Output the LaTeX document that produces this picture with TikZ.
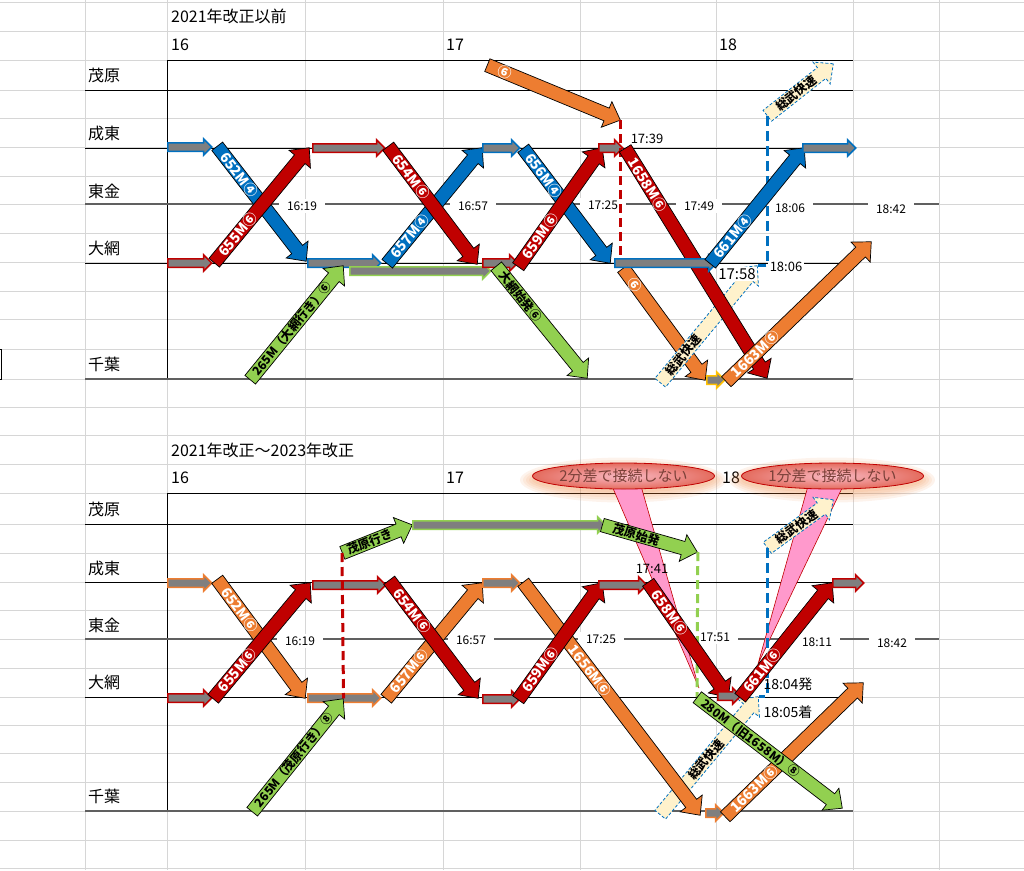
\documentclass[tikz,border=0pt]{standalone}
\usepackage{fontspec}
\setmainfont{Noto Sans CJK JP}
\usetikzlibrary{calc,shapes.arrows,shapes.geometric}
\definecolor{jrred}{HTML}{C00000}
\definecolor{jrblue}{HTML}{0070C0}
\definecolor{jrorange}{HTML}{ED7D31}
\definecolor{jrgreen}{HTML}{92D050}
\definecolor{jrcream}{HTML}{FFF2CC}
\definecolor{jrgold}{HTML}{FFC000}
\definecolor{stopgray}{HTML}{7F7F7F}
\definecolor{gridgray}{HTML}{D6D6D6}
\definecolor{linegray}{HTML}{606060}
\definecolor{wedgepink}{HTML}{FF99CC}
\definecolor{noteinner}{HTML}{F9B9C4}
\definecolor{noteouter}{HTML}{E46C5E}
\definecolor{notetext}{HTML}{7A4038}
\newcommand\trainarrow[7][]{%
  \path let \p1=(#4), \p2=(#5), \n1={atan2(\y2-\y1,\x2-\x1)}, \n2={veclen(\x2-\x1,\y2-\y1)} in
    node[#2, rotate=\n1, minimum height=\n2, anchor=tail] (#3) at (\p1) {}
    node[tlab, #1, rotate=\n1] (#3-l) at ($(\p1)!#6!(\p2)$) {#7};}
\newcommand\stoparrow[4]{%
  \path let \p1=(#3), \p2=(#4), \n1={veclen(\x2-\x1,\y2-\y1)} in
    node[#1, minimum height=\n1, anchor=tail] (#2) at (\p1) {};}
\begin{document}
\begin{tikzpicture}[x=1pt,y=-1pt,
    gridline/.style={draw=gridgray, line width=1pt},
    station/.style={anchor=west, inner sep=0pt, font=\fontsize{16}{16}\selectfont},
    tlabel/.style={fill=white, inner xsep=8pt, inner ysep=3pt, font=\fontsize{12}{12}\selectfont},
    note/.style={inner sep=1.5pt, font=\fontsize{13}{13}\selectfont},
    train/.style={single arrow, draw=black, line width=.7pt, inner xsep=0pt, inner ysep=6.5pt,
      minimum width=0pt, single arrow head extend=7pt, single arrow tip angle=86},
    trainred/.style={train, fill=jrred},
    trainblue/.style={train, fill=jrblue},
    trainorange/.style={train, fill=jrorange},
    traingreen/.style={train, fill=jrgreen},
    rapid/.style={train, fill=jrcream, draw=jrblue, line width=.8pt, dash pattern=on 3pt off 2pt},
    halt/.style={single arrow, fill=stopgray, line width=1.5pt, inner xsep=0pt, inner ysep=3.5pt,
      minimum width=0pt, single arrow head extend=4pt, single arrow tip angle=90},
    haltred/.style={halt, draw=jrred},
    haltblue/.style={halt, draw=jrblue},
    haltorange/.style={halt, draw=jrorange},
    haltgreen/.style={halt, draw=jrgreen},
    haltgold/.style={halt, draw=jrgold},
    tlab/.style={inner sep=0pt, text=white, font=\fontsize{14}{14}\selectfont\bfseries},
    blab/.style={text=black, font=\fontsize{12}{12}\selectfont\bfseries},
    slab/.style={text=black, font=\fontsize{12}{12}\selectfont\bfseries},
    reddash/.style={draw=jrred, line width=3pt, dash pattern=on 9pt off 5pt},
    bluedash/.style={draw=jrblue, line width=3pt, dash pattern=on 10pt off 5pt},
    greendash/.style={draw=jrgreen, line width=3pt, dash pattern=on 9pt off 5pt},
    gapnote/.style={ellipse, draw=jrred, line width=.8pt, inner color=noteinner, outer color=noteouter,
      minimum width=182pt, minimum height=26pt, inner sep=0pt, text=notetext, font=\fontsize{15}{15}\selectfont}]
\useasboundingbox (0,0) rectangle (1024,870);
% sheet grid
\foreach \gx in {85,167,305,443,580,716,853,939} \draw[gridline] (\gx,0) -- (\gx,870);
\foreach \gy in {2,31,60,90,118,147,176,204,233,262,291,319,349,379,407,435,464,493,524,553,582,610,639,668,697,725,753,782,811,840,868}
  \draw[gridline] (0,\gy) -- (1024,\gy);
\draw[line width=.8pt] (-2,349) -- (1.5,349) -- (1.5,379) -- (-2,379);
% frames and station lines
\foreach \yf/\ym/\ys/\yt/\yo/\yc in {60/90/148/204/263/379,493/524/582/639/697/811} {
  \draw[line width=.9pt] (167,\yc) -- (167,\yf) -- (853,\yf);
  \foreach \sy in {\ym,\ys,\yo} \draw[line width=.8pt] (85,\sy) -- (853,\sy);
  \draw[line width=1.4pt, draw=linegray] (85,\yt) -- (939,\yt);
  \draw[line width=1.4pt, draw=linegray] (85,\yc) -- (853,\yc);
}
\foreach [count=\i] \nm/\ly in {茂原/75,成東/133,東金/191,大網/248,千葉/364,茂原/509,成東/568,東金/625,大網/682,千葉/796}
  \node[station] (st\i) at (88,\ly) {\nm};
\node[station] (title1) at (171,16) {2021年改正以前};
\node[station] (title2) at (171,450) {2021年改正～2023年改正};
\foreach [count=\i] \hx/\hy/\hr in {171/45/16,446/45/17,719/45/18,171/478/16,446/478/17,722/478/18}
  \node[station] (hr\i) at (\hx,\hy) {\hr};
\foreach [count=\i] \tx/\ty/\tm in {302/206/16:19,473/206/16:57,603/205/17:25,699/206/17:49,790/208/18:06,891/209/18:42,
    300/641/16:19,471/640/16:57,601/639/17:25,715/637/17:51,817/642/18:11,892/643/18:42}
  \node[tlabel] (tm\i) at (\tx,\ty) {\tm};
% callouts
\foreach \k in {1,...,5} {
  \fill[jrorange, opacity=.09] (623,480) ellipse ({88+3*\k} and {10+2.5*\k});
  \fill[jrorange, opacity=.09] (832,480) ellipse ({88+3*\k} and {10+2.5*\k});
}
\filldraw[fill=wedgepink, draw=jrred, line width=.6pt] (612,486) -- (699,688) -- (641,486) -- cycle;
\filldraw[fill=wedgepink, draw=jrred, line width=.6pt] (808,486) -- (758,664) -- (843,486) -- cycle;
\node[gapnote] (gap2) at (623.5,476) {2分差で接続しない};
\node[gapnote] (gap1) at (832.5,476) {1分差で接続しない};

% ---- before 2021
\stoparrow{haltblue}{hb1}{167,147}{211,147}
\stoparrow{haltred}{hr1}{167,263}{211,263}
\trainarrow{trainblue}{b652}{217,146}{306,261}{.25}{652M④}
\trainarrow{trainred}{r655}{214,263}{309,148}{.25}{655M⑥}
\stoparrow{haltred}{hr2}{312,148}{384,148}
\stoparrow{haltblue}{hb2}{307,263}{380,263}
\trainarrow[blab]{traingreen}{g265}{250,380}{343,266}{.45}{265M（大網行き）⑥}
\stoparrow{haltgreen}{hg1}{349,271}{490,271}
\trainarrow{trainblue}{b657}{387,264}{482,148}{.24}{657M④}
\trainarrow{trainred}{r654}{388,146}{477,264}{.26}{654M⑥}
\stoparrow{haltblue}{hb3}{482,148}{519,148}
\stoparrow{haltred}{hr3}{482,263}{517,263}
\trainarrow[slab]{traingreen}{goa}{496,266}{587,378}{.27}{大網始発⑥}
\trainarrow{trainblue}{b656}{523,148}{610,263}{.24}{656M④}
\trainarrow{trainred}{r659}{518,267}{602,148}{.26}{659M⑥}
\stoparrow{haltred}{hr4}{598,148}{622,148}
\trainarrow{trainorange}{mo6}{487,65}{620,120}{.135}{⑥}
\trainarrow{trainorange}{ob6}{623,268}{705,380}{.15}{⑥}
\draw[reddash] (mo6.tip) -- (mo6.tip |- ob6.tail);
\trainarrow[slab]{rapid}{sku}{767,116}{833,64}{.44}{総武快速}
\trainarrow[slab]{rapid}{skl}{660,383}{757,266}{.24}{総武快速}
\draw[bluedash] (sku.tail) |- (skl.tip);
\stoparrow{haltgold}{hy1}{706,380}{724,380}
\trainarrow{trainred}{r1658}{625,148}{767,378}{.16}{1658M⑥}
\stoparrow{haltblue}{hb4}{614,263}{716,263}
\trainarrow{trainblue}{b661}{710,264}{804,148}{.24}{661M④}
\stoparrow{haltblue}{hb5}{802,148}{855,148}
\trainarrow{trainorange}{o1663}{726,382}{871,242}{.2}{1663M⑥}

% ---- 2021 to 2023
\stoparrow{haltorange}{ho1}{167,583}{211,583}
\stoparrow{haltred}{hr5}{167,698}{211,698}
\trainarrow{trainorange}{o652}{217,579}{305,698}{.26}{652M⑥}
\trainarrow{trainred}{r655b}{213,699}{310,583}{.25}{655M⑥}
\stoparrow{haltred}{hr6}{312,585}{385,585}
\stoparrow{haltorange}{ho2}{307,698}{380,698}
\trainarrow[blab]{traingreen}{g265b}{252,812}{343,699}{.46}{265M（茂原行き）⑧}
\trainarrow[slab]{traingreen}{gmo}{342,553}{412,525}{.4}{茂原行き}
\stoparrow{haltgreen}{hg2}{412,525}{605,525}
\draw[reddash] (gmo.tail) -- (g265b.tip);
\trainarrow{trainorange}{o657}{386,699}{482,583}{.24}{657M⑥}
\trainarrow{trainred}{r654b}{389,580}{478,698}{.26}{654M⑥}
\stoparrow{haltorange}{ho3}{482,583}{519,583}
\stoparrow{haltred}{hr7}{482,699}{519,699}
\trainarrow[slab]{rapid}{sku2}{767,548}{833,500}{.45}{総武快速}
\trainarrow[slab]{rapid}{skl2}{660,815}{758,697}{.47}{総武快速}
\draw[bluedash] (sku2.tail) |- (skl2.tip);
\trainarrow{trainorange}{o1656}{523,582}{700,815}{.38}{1656M⑥}
\trainarrow{trainred}{r659b}{518,700}{602,583}{.26}{659M⑥}
\stoparrow{haltred}{hr8}{598,585}{646,585}
\coordinate (g280t) at (697,697);
\trainarrow[slab]{traingreen}{gmh}{602,525}{697,552}{.36}{茂原始発}
\draw[greendash] (gmh.tip) -- (g280t);
\stoparrow{haltorange}{ho4}{705,813}{723,813}
\trainarrow{trainred}{r658}{648,582}{728,697}{.27}{658M⑥}
\stoparrow{haltred}{hr9}{717,696}{740,696}
\trainarrow{trainred}{r661}{740,698}{832,583}{.24}{661M⑥}
\stoparrow{haltred}{hr10}{832,583}{863,583}
\trainarrow{trainorange}{o1663b}{725,817}{863,683}{.21}{1663M⑥}
\trainarrow[blab]{traingreen}{g280}{g280t}{842,808}{.37}{280M（旧1658M）⑧}

% times beside the arrows
\node[note] (t1739) at (647,139) {17:39};
\node[note, fill=white, font=\fontsize{15}{15}\selectfont] (t1758) at (737,274) {17:58};
\node[note, fill=white] (t1806) at (786,267) {18:06};
\node[note] (t1741) at (652,569) {17:41};
\node[note, font=\fontsize{14}{14}\selectfont] (t1804) at (788,684) {18:04発};
\node[note, font=\fontsize{14}{14}\selectfont] (t1805) at (788,712) {18:05着};
\end{tikzpicture}
\end{document}
